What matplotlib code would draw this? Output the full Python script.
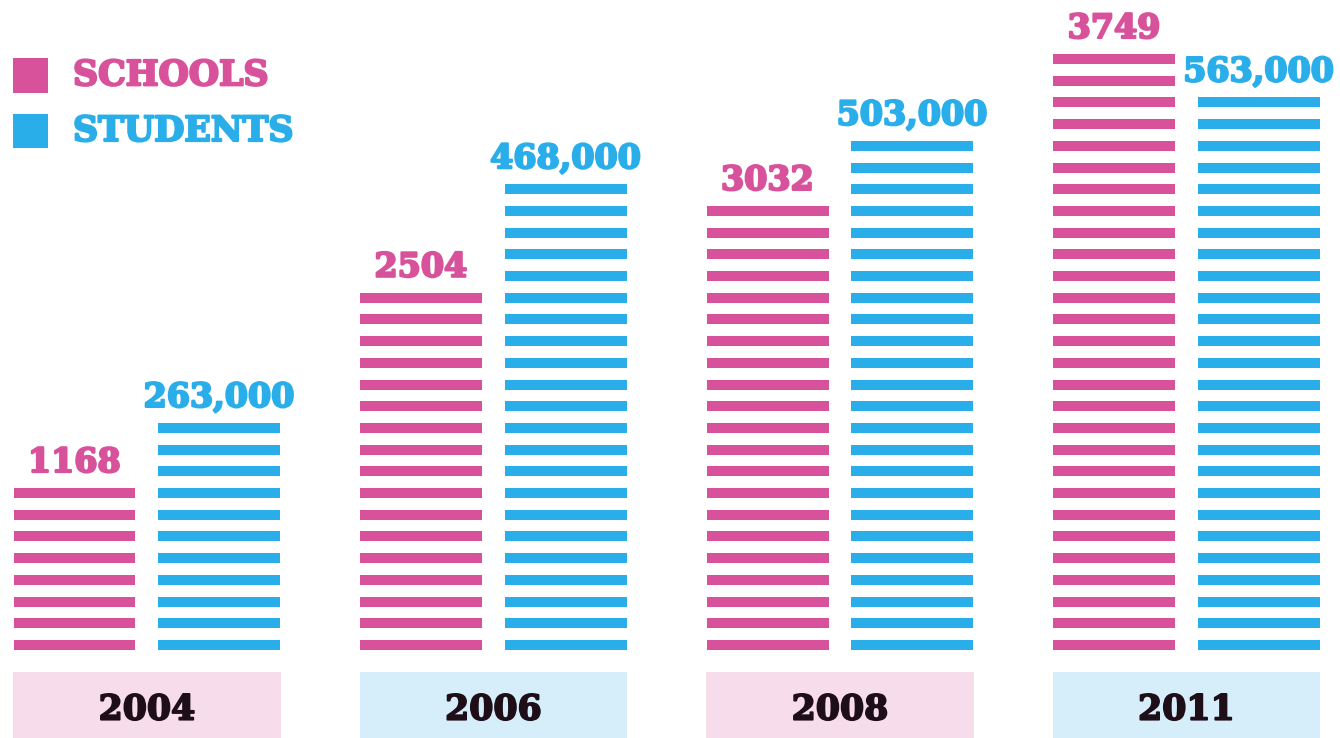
"""Striped bar infographic: schools and students by year."""

import matplotlib

matplotlib.use("Agg")

import matplotlib.pyplot as plt
import matplotlib.patheffects as pe
from matplotlib.patches import Rectangle
import numpy as np


YEARS = ["2004", "2006", "2008", "2011"]
SCHOOLS = [1168, 2504, 3032, 3749]
STUDENTS = [263000, 468000, 503000, 563000]
# bar heights as drawn, counted in stripes
SCHOOL_STRIPES = [8, 17, 21, 28]
STUDENT_STRIPES = [11, 22, 24, 26]

PINK = "#D7519B"
BLUE = "#29AEEA"
PINK_LIGHT = "#F7DCEB"
BLUE_LIGHT = "#D6EDFA"
FONT = "DejaVu Serif"


def striped_bar(ax, x, n, color, width, thick=0.46):
    k = np.arange(n)
    ax.bar(np.full(n, x), np.full(n, thick), bottom=k, width=width,
           color=color, linewidth=0)


def heavy(color, lw=1.6):
    return [pe.withStroke(linewidth=lw, foreground=color)]


def main():
    fig = plt.figure(figsize=(13.4, 7.38), dpi=100)
    ax = fig.add_axes([0, 0, 1, 1])
    ax.set_xlim(-0.424, 3.443)
    ax.set_ylim(-4.055, 29.95)
    ax.axis("off")

    off, width = 0.209, 0.352
    for i, year in enumerate(YEARS):
        xs, xt = i - off, i + off
        striped_bar(ax, xs, SCHOOL_STRIPES[i], PINK, width)
        striped_bar(ax, xt, STUDENT_STRIPES[i], BLUE, width)

        ax.text(xs, SCHOOL_STRIPES[i] + 0.2, f"{SCHOOLS[i]}", color=PINK,
                ha="center", va="baseline", fontsize=24, fontweight="bold",
                family=FONT, path_effects=heavy(PINK))
        ax.text(xt, STUDENT_STRIPES[i] + 0.2, f"{STUDENTS[i]:,}", color=BLUE,
                ha="center", va="baseline", fontsize=24, fontweight="bold",
                family=FONT, path_effects=heavy(BLUE))

        box = PINK_LIGHT if i % 2 == 0 else BLUE_LIGHT
        ax.bar(i, 3.1, bottom=-4.1, width=0.771, color=box, linewidth=0)
        ax.text(i, -2.75, year, color="#1E0E18", ha="center", va="center",
                fontsize=25, fontweight="bold", family=FONT,
                path_effects=heavy("#1E0E18", 1.3))

    # legend
    for label, color, yc in [("SCHOOLS", PINK, 0.898), ("STUDENTS", BLUE, 0.8225)]:
        ax.add_patch(Rectangle((0.0097, yc - 0.0237), 0.0261, 0.0474,
                               transform=ax.transAxes, color=color, linewidth=0))
        ax.text(0.0545, yc, label, transform=ax.transAxes, color=color,
                ha="left", va="center", fontsize=25, fontweight="bold",
                family=FONT, path_effects=heavy(color))

    fig.savefig("out.png", dpi=100)


if __name__ == "__main__":
    main()
